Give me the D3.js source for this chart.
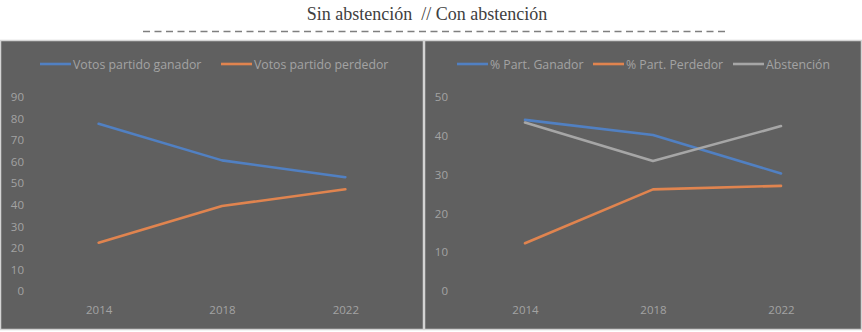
<!DOCTYPE html>
<html><head><meta charset="utf-8">
<script src="https://cdn.jsdelivr.net/npm/d3@7"></script>
<style>
html,body{margin:0;padding:0;background:#fff;}
svg{display:block;}
</style></head>
<body>
<svg id="chart" width="862" height="332"></svg>
<script>
const years = ["2014", "2018", "2022"];
const votosGanador = [77.6, 60.6, 52.8];
const votosPerdedor = [22.4, 39.4, 47.2];
const partGanador = [44.1, 40.2, 30.3];
const partPerdedor = [12.3, 26.2, 27.1];
const abstencion = [43.4, 33.5, 42.5];
const leftTicks = [0, 10, 20, 30, 40, 50, 60, 70, 80, 90];
const rightTicks = [0, 10, 20, 30, 40, 50];
const titleText = "Sin abstención  // Con abstención";

const BLUE = "#5180c2", ORANGE = "#e0844f", GRAY = "#a6a6a6";
const TXT = "#a3a3a3", BG = "#606060", BORDER = "#d4d4d4";
const FONT = "'Open Sans', 'DejaVu Sans', sans-serif";

const svg = d3.select("#chart");

// title
svg.append("text").attr("x", 427).attr("y", 20).attr("text-anchor", "middle")
  .attr("font-family", "'Liberation Serif', 'Times New Roman', serif")
  .attr("font-size", 18).attr("fill", "#404040")
  .style("white-space", "pre").attr("xml:space", "preserve").text(titleText);
svg.append("line").attr("x1", 143).attr("x2", 729).attr("y1", 31.5).attr("y2", 31.5)
  .attr("stroke", "#7f7f7f").attr("stroke-width", 1.5).attr("stroke-dasharray", "7,4.5");

function panel(cfg) {
  const g = svg.append("g");
  g.append("rect").attr("x", cfg.x0 + 0.5).attr("y", 40.5)
    .attr("width", cfg.x1 - cfg.x0 - 1).attr("height", 289)
    .attr("fill", BG).attr("stroke", BORDER).attr("stroke-width", 1.5);

  const x = d3.scalePoint().domain(years).range(cfg.xRange).padding(0.5);
  const y = d3.scaleLinear().domain([0, cfg.max]).range([291, 97]);

  const ya = g.append("g").attr("transform", `translate(${cfg.yAxisX},0)`)
    .call(d3.axisLeft(y).tickValues(cfg.ticks).tickSize(0).tickPadding(4));
  ya.select(".domain").remove();
  ya.selectAll("text").attr("fill", TXT).attr("font-family", FONT).attr("font-size", 11.5);

  const xa = g.append("g").attr("transform", `translate(0,291)`)
    .call(d3.axisBottom(x).tickSize(0).tickPadding(15));
  xa.select(".domain").remove();
  xa.selectAll("text").attr("fill", TXT).attr("font-family", FONT).attr("font-size", 11.5);

  const line = d3.line().x((d, i) => x(years[i])).y(d => y(d));
  cfg.series.forEach(s => {
    g.append("path").datum(s.values).attr("d", line).attr("fill", "none")
      .attr("stroke", s.color).attr("stroke-width", 2.6).attr("stroke-linecap", "round")
      .attr("stroke-linejoin", "round");
  });

  cfg.series.forEach(s => {
    g.append("line").attr("x1", s.lx).attr("x2", s.lx + 31).attr("y1", 64).attr("y2", 64)
      .attr("stroke", s.color).attr("stroke-width", 2.6);
    g.append("text").attr("x", s.lx + 33).attr("y", 68.5).attr("fill", TXT)
      .attr("font-family", FONT).attr("font-size", 12.3).text(s.name);
  });
}

panel({
  x0: 0, x1: 424, xRange: [37, 407], max: 90, ticks: leftTicks, yAxisX: 28,
  series: [
    { name: "Votos partido ganador", values: votosGanador, color: BLUE, lx: 40 },
    { name: "Votos partido perdedor", values: votosPerdedor, color: ORANGE, lx: 221 }
  ]
});
panel({
  x0: 424, x1: 862, xRange: [461, 845], max: 50, ticks: rightTicks, yAxisX: 452,
  series: [
    { name: "% Part. Ganador", values: partGanador, color: BLUE, lx: 457 },
    { name: "% Part. Perdedor", values: partPerdedor, color: ORANGE, lx: 593 },
    { name: "Abstención", values: abstencion, color: GRAY, lx: 733 }
  ]
});
</script>
</body></html>
